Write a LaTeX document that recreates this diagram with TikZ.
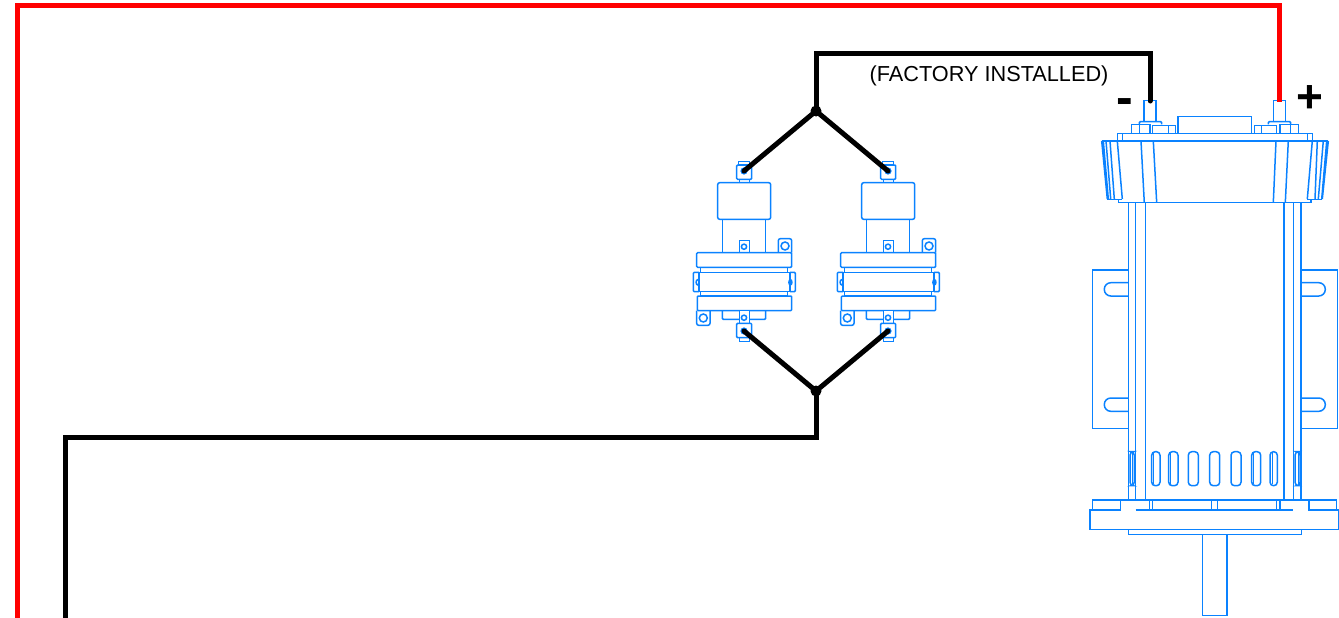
\documentclass[tikz,border=0pt]{standalone}
\usepackage{fontspec}
\setmainfont{Liberation Sans}
\definecolor{cadblue}{RGB}{10,130,255}
\tikzset{
  cad/.style={draw=cadblue,line width=1.5pt},
  cadthin/.style={draw=cadblue,line width=1pt},
  wire/.style={line width=5pt,line cap=round,line join=miter},
  blackwire/.style={wire,draw=black},
  redwire/.style={wire,draw=red,line cap=butt},
  junction/.style={circle,fill=black,inner sep=0pt,minimum size=11pt},
  minuslabel/.style={font=\bfseries\fontsize{50}{50}\selectfont,inner sep=0pt},
  pluslabel/.style={font=\bfseries\fontsize{46}{46}\selectfont,inner sep=0pt},
  note/.style={font=\fontsize{21.7}{24}\selectfont,inner sep=0pt}
}
\newcommand{\contactorbody}{%
  % top terminal
  \draw[cad] (738.7,161.3) rectangle (749.3,165);
  \draw[cad,rounded corners=1pt] (736.7,165) rectangle (751.7,179.3);
  \draw[cad] (739.3,179.3) rectangle (749.3,182.7);
  \draw[cad] (744,171) circle (2.8);
  % coil
  \draw[cad,rounded corners=2pt] (717.7,182.7) rectangle (770.7,219.3);
  \draw[cad] (722.3,219.3) -- (722.3,252.7) (765.7,219.3) -- (765.7,252.7);
  % upper tab and ear
  \draw[cad] (739.3,252.7) -- (739.3,240.7) -- (749.3,240.7) -- (749.3,252.7);
  \draw[cad] (744,246.7) circle (2.6);
  \draw[cad,rounded corners=2pt] (778.3,252.7) -- (778.3,238.7) -- (791.7,238.7) -- (791.7,252.7);
  \draw[cad] (785,246) circle (4);
  % bands
  \draw[cad,rounded corners=1pt] (696.7,252.7) rectangle (791.7,267.3);
  \draw[cad] (700.7,267.3) rectangle (787.7,272.3);
  \draw[cad] (699,272.3) rectangle (790,291.7);
  \draw[cad] (700.7,291.7) rectangle (787.7,296);
  \draw[cad,rounded corners=1pt] (697.3,296) rectangle (791.7,310.7);
  % side clips
  \draw[cad,rounded corners=1pt] (699,272.3) -- (693.3,272.3) -- (693.3,291.7) -- (699,291.7);
  \draw[cad,rounded corners=1pt] (790,272.3) -- (795.3,272.3) -- (795.3,291.7) -- (790,291.7);
  \draw[cad] (697.6,282.3) ellipse (1.5 and 2.6);
  \draw[cad] (790.4,282.3) ellipse (1.5 and 2.6);
  % lower neck, tab, ear
  \draw[cad,rounded corners=1pt] (722.3,310.7) -- (722.3,319.3) -- (765.7,319.3) -- (765.7,310.7);
  \draw[cad,fill=white] (739.3,310.7) rectangle (749.3,323.3);
  \draw[cad] (744,317.7) circle (2.6);
  \draw[cad,rounded corners=2pt] (696.7,310.7) -- (696.7,325.3) -- (710,325.3) -- (710,310.7);
  \draw[cad] (703.3,318) circle (4);
  % bottom terminal
  \draw[cad,rounded corners=1pt] (736.7,323.3) rectangle (751.7,337.7);
  \draw[cad] (739.3,337.7) rectangle (749.3,341.3);
  \draw[cad] (744,331) circle (2.8);
}
\begin{document}
\begin{tikzpicture}[x=1pt,y=-1pt]
\useasboundingbox (0,0) rectangle (1339,618);
% contactors
\begin{scope}\contactorbody\end{scope}
\begin{scope}[xshift=144pt]\contactorbody\end{scope}
% motor studs and hardware
\draw[cad] (1144,100.3) rectangle (1156,121.7);
\draw[cad] (1273.3,100.3) rectangle (1285.3,121.7);
\draw[cad,rounded corners=1pt] (1139.3,124.3) -- (1139.3,121.7) -- (1161.7,121.7) -- (1161.7,124.3);
\draw[cad,rounded corners=1pt] (1268.3,124.3) -- (1268.3,121.7) -- (1290.7,121.7) -- (1290.7,124.3);
\draw[cad] (1131.7,124.3) rectangle (1150,133.3);
\draw[cad] (1139.3,124.3) -- (1139.3,133.3);
\draw[cad] (1152.7,125.5) rectangle (1168.3,133.3);
\draw[cad] (1168.3,125.5) rectangle (1175.7,133.3);
\draw[cad] (1280,124.3) rectangle (1298.3,133.3);
\draw[cad] (1290.7,124.3) -- (1290.7,133.3);
\draw[cad] (1261.7,125.5) rectangle (1276.7,133.3);
\draw[cad] (1254.3,125.5) rectangle (1261.7,133.3);
\draw[cad] (1178,116.7) rectangle (1251.3,133.3);
% motor head
\draw[cad] (1117.3,133.3) rectangle (1312.3,141);
\draw[cad] (1122.7,133.3) -- (1122.7,141) (1307.3,133.3) -- (1307.3,141);
\draw[cad] (1117.3,141) -- (1122.3,199) (1312.3,141) -- (1307.3,199);
\draw[cad] (1118.3,199) -- (1118.3,202.7) -- (1311,202.7) -- (1311,199);
\draw[cadthin] (1107,199) -- (1122.3,199) (1307.3,199) -- (1322,199);
\draw[cad] (1141,141) -- (1144.3,202.7) (1153.3,141) -- (1156.7,202.7);
\draw[cad] (1288.3,141) -- (1285.3,202.7) (1276,141) -- (1273.3,202.7);
% fins
\draw[cad] (1101.7,141) -- (1117.3,141) (1312.3,141) -- (1328.3,141);
\draw[cad] (1101.7,141) -- (1107.3,199) (1103.3,141) -- (1108.3,199) (1106,141) -- (1110.7,199) (1110,141) -- (1114.3,199);
\draw[cad] (1328.3,141) -- (1322.3,199) (1326.7,141) -- (1321.7,199) (1323.3,141) -- (1318.3,199) (1317.3,141) -- (1315,199);
% motor body
\draw[cad] (1128.3,202.7) -- (1128.3,500) (1135.7,202.7) -- (1135.7,500) (1145.7,202.7) -- (1145.7,500);
\draw[cad] (1284,202.7) -- (1284,500) (1293.3,202.7) -- (1293.3,500) (1301,202.7) -- (1301,500);
% mounting brackets
\draw[cad] (1128.3,270) -- (1092.7,270) -- (1092.7,428.3) -- (1128.3,428.3);
\draw[cad] (1301,270) -- (1337.3,270) -- (1337.3,428.3) -- (1301,428.3);
\foreach \ya/\yb in {282.7/296,398/411.3}{
  \draw[cad,rounded corners=6.5pt] (1128.3,\ya) -- (1104.3,\ya) -- (1104.3,\yb) -- (1128.3,\yb);
  \draw[cad,rounded corners=6.5pt] (1301,\ya) -- (1325.3,\ya) -- (1325.3,\yb) -- (1301,\yb);
}
% vent slots
\foreach \xa/\xb in {1151.7/1160,1168.7/1178,1188.3/1198.3,1209.7/1219.7,1231/1241,1251.7/1260.7,1270/1277.3,1130/1134.3,1295/1300}{
  \draw[cad,rounded corners=3.5pt] (\xa,451.7) rectangle (\xb,485.7);
}
\draw[cadthin] (1170.5,452) -- (1170.5,485) (1153.5,453) -- (1153.5,484) (1253.5,453) -- (1253.5,484) (1272,453) -- (1272,484) (1132,453) -- (1132,484) (1298,453) -- (1298,484);
% base
\draw[cad] (1120.7,500) -- (1120.7,510) -- (1092.7,510) -- (1092.7,500) -- (1336.7,500) -- (1336.7,510) -- (1309,510) -- (1309,500);
\draw[cad] (1135.7,510) -- (1293.3,510);
\foreach \x in {1149.3,1152.7,1211.7,1217.7,1276.7,1280}{\draw[cad] (\x,500) -- (\x,510);}
\draw[cad] (1120.7,510) -- (1090,510) -- (1090,529.3) -- (1339,529.3) -- (1339,510) -- (1309,510);
\draw[cad] (1128.3,529.3) rectangle (1301.3,534.3);
\draw[cad] (1202.3,534.3) rectangle (1227,615.7);
% connection points
\coordinate (c1t) at (744,171);
\coordinate (c2t) at (888,171);
\coordinate (c1b) at (744,331);
\coordinate (c2b) at (888,331);
\coordinate (neg) at (1150,101);
\coordinate (pos) at (1279,102);
\coordinate (redend) at (17,618);
\coordinate (blackend) at (65,618);
\coordinate (bendneg) at (1150,54);
\coordinate (bendtop) at (816,54);
\coordinate (bendbot) at (816,437.5);
\coordinate (bendleft) at (65,437.5);
\coordinate (redtl) at (17,6);
\coordinate (redtr) at (1279,6);
\node[junction] (jt) at (816,111) {};
\node[junction] (jb) at (816,391) {};
% wires
\draw[redwire] (redend) -- (redtl) -- (redtr) -- (pos);
\draw[blackwire] (jt.center) -- (bendtop) -- (bendneg) -- (neg);
\draw[blackwire] (c1t) -- (jt.center) -- (c2t);
\draw[blackwire] (c1b) -- (jb.center) -- (c2b);
\draw[blackwire,line cap=butt] (jb.center) -- (bendbot) -- (bendleft) -- (blackend);
% labels
\node[note] (factory) at (989,75.5) {(FACTORY INSTALLED)};
\node[minuslabel] (minus) at (1124.5,107) {-};
\node[pluslabel] (plus) at (1310,99) {+};
\end{tikzpicture}
\end{document}
